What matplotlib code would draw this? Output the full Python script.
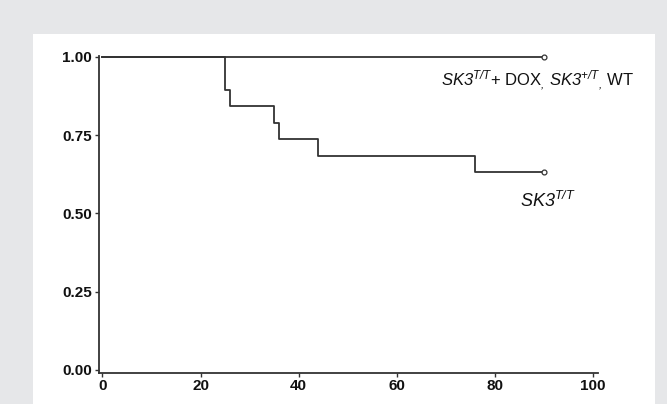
""" Kaplan-Meier style survival curves

"""
import matplotlib.pyplot as plt
from matplotlib.patches import Rectangle

# survival data
ctrl_days = [0, 90]
ctrl_surv = [1.0, 1.0]

tt_days = [0, 25, 26, 35, 36, 44, 76, 90]
tt_surv = [1.0, 0.895, 0.842, 0.789, 0.737, 0.684, 0.632, 0.632]

x_ticks = [0, 20, 40, 60, 80, 100]
y_ticks = [0.0, 0.25, 0.5, 0.75, 1.0]
y_ticklabels = ['0.00', '0.25', '0.50', '0.75', '1.00']

ctrl_label = r'$SK3^{T/T}$+ DOX$_{,}$ $SK3^{+/T}{}_{,}$ WT'
tt_label = r'$SK3^{T/T}$'

W, H = 667, 404


def main():
    plt.rcParams['font.family'] = ['Liberation Sans', 'DejaVu Sans']
    plt.rcParams['mathtext.fontset'] = 'custom'
    plt.rcParams['mathtext.rm'] = 'Liberation Sans:italic'
    plt.rcParams['mathtext.it'] = 'Liberation Sans:italic'

    line_col = '#333333'
    fig = plt.figure(figsize=(W / 100, H / 100), dpi=100, facecolor='#e6e7e9')
    # white panel
    fig.patches.append(Rectangle((33 / W, 0), (655 - 33) / W, (H - 34) / H,
                                 transform=fig.transFigure, facecolor='white',
                                 edgecolor='none', zorder=-5))

    ax = fig.add_axes([99 / W, 31.5 / H, (597.7 - 99) / W, (348 - 31.5) / H])
    ax.set_facecolor('none')
    ax.set_zorder(2)

    ax.step(ctrl_days, ctrl_surv, where='post', color=line_col, lw=1.3, clip_on=False)
    ax.plot(ctrl_days[-1], ctrl_surv[-1], 'o', ms=3.5, mfc='white', mec=line_col,
            mew=0.9, clip_on=False)
    ax.step(tt_days, tt_surv, where='post', color=line_col, lw=1.3, clip_on=False)
    ax.plot(tt_days[-1], tt_surv[-1], 'o', ms=3.5, mfc='white', mec=line_col,
            mew=0.9, clip_on=False)

    fig.text(441 / W, 1 - 86 / H, ctrl_label, fontsize=12, color='#111111',
             ha='left', va='baseline', zorder=3)
    fig.text(520 / W, 1 - 207 / H, tt_label, fontsize=13, color='#111111',
             ha='left', va='baseline', zorder=3)

    ax.set_xlim(-0.7, 101)
    ax.set_ylim(-0.008, 1.003)
    ax.set_xticks(x_ticks)
    ax.set_yticks(y_ticks)
    ax.set_yticklabels(y_ticklabels)
    for sp in ['top', 'right']:
        ax.spines[sp].set_visible(False)
    for sp in ['left', 'bottom']:
        ax.spines[sp].set_color(line_col)
        ax.spines[sp].set_linewidth(1.3)
    ax.tick_params(direction='out', length=3, width=1, color=line_col, pad=2,
                   labelsize=11, labelcolor='#111111')
    for lbl in ax.get_xticklabels() + ax.get_yticklabels():
        lbl.set_fontweight('bold')

    fig.savefig('out.png', dpi=100, facecolor=fig.get_facecolor())


if __name__ == '__main__':
    main()
